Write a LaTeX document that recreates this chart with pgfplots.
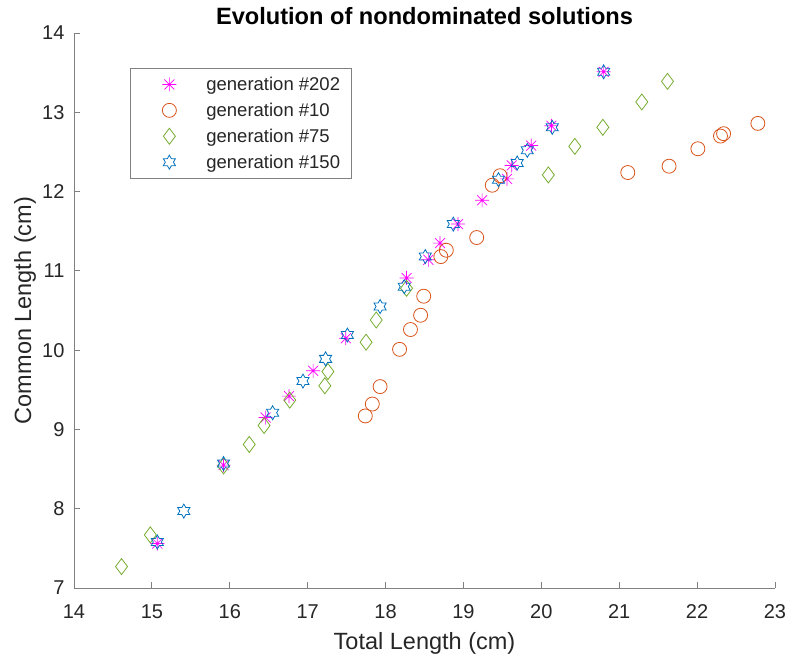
\documentclass[border=0pt]{standalone}
\usepackage{fontspec}
\setmainfont{Liberation Sans}
\usepackage{pgfplots}
\pgfplotsset{compat=1.18}
\definecolor{cmag}{RGB}{255,0,255}
\definecolor{corange}{RGB}{217,83,25}
\definecolor{cgreen}{RGB}{119,172,48}
\definecolor{cblue}{RGB}{0,114,189}
\definecolor{axgray}{RGB}{128,128,128}
\definecolor{labgray}{RGB}{38,38,38}
\pgfdeclareplotmark{mstar}{%
  \pgfpathmoveto{\pgfqpoint{-\pgfplotmarksize}{0pt}}\pgfpathlineto{\pgfqpoint{\pgfplotmarksize}{0pt}}%
  \pgfpathmoveto{\pgfqpoint{0pt}{-\pgfplotmarksize}}\pgfpathlineto{\pgfqpoint{0pt}{\pgfplotmarksize}}%
  \pgfpathmoveto{\pgfpointpolar{45}{\pgfplotmarksize}}\pgfpathlineto{\pgfpointpolar{225}{\pgfplotmarksize}}%
  \pgfpathmoveto{\pgfpointpolar{135}{\pgfplotmarksize}}\pgfpathlineto{\pgfpointpolar{315}{\pgfplotmarksize}}%
  \pgfusepathqstroke}
\pgfdeclareplotmark{hexagram}{%
  \pgfpathmoveto{\pgfpointpolar{90}{\pgfplotmarksize}}%
  \pgfpathlineto{\pgfpointpolar{120}{0.577\pgfplotmarksize}}%
  \pgfpathlineto{\pgfpointpolar{150}{\pgfplotmarksize}}%
  \pgfpathlineto{\pgfpointpolar{180}{0.577\pgfplotmarksize}}%
  \pgfpathlineto{\pgfpointpolar{210}{\pgfplotmarksize}}%
  \pgfpathlineto{\pgfpointpolar{240}{0.577\pgfplotmarksize}}%
  \pgfpathlineto{\pgfpointpolar{270}{\pgfplotmarksize}}%
  \pgfpathlineto{\pgfpointpolar{300}{0.577\pgfplotmarksize}}%
  \pgfpathlineto{\pgfpointpolar{330}{\pgfplotmarksize}}%
  \pgfpathlineto{\pgfpointpolar{0}{0.577\pgfplotmarksize}}%
  \pgfpathlineto{\pgfpointpolar{30}{\pgfplotmarksize}}%
  \pgfpathlineto{\pgfpointpolar{60}{0.577\pgfplotmarksize}}%
  \pgfpathclose\pgfusepathqstroke}
\pgfplotsset{myleg/.style={legend image code/.code={\path[draw=none,fill=none] (0pt,-3pt) rectangle (65pt,3pt); \draw[mark repeat=2,mark phase=2,##1] plot coordinates {(0pt,0pt) (30pt,0pt) (65pt,0pt)};}}}
\begin{document}
\begin{tikzpicture}
\begin{axis}[
  scale only axis, width=701pt, height=555pt,
  xmin=14, xmax=23, ymin=7, ymax=14,
  xtick={14,15,...,23}, ytick={7,8,...,14},
  axis x line*=bottom, axis y line*=left,
  tick align=inside, major tick length=6pt,
  axis line style={draw=axgray, line width=0.8pt},
  tick style={draw=axgray, line width=0.8pt},
  tick label style={font=\fontsize{20}{24}\selectfont, text=labgray},
  xticklabel style={yshift=-13pt},
  yticklabel style={xshift=-6pt},
  /pgf/number format/assume math mode=true,
  xlabel={Total Length (cm)}, ylabel={Common Length (cm)},
  label style={font=\fontsize{23.5}{28}\selectfont, text=labgray},
  xlabel style={at={(axis description cs:0.5,-0.1117)}, anchor=base},
  ylabel style={at={(axis description cs:-0.0613,0.5)}, anchor=base},
  title={Evolution of nondominated solutions},
  title style={font=\bfseries\fontsize{23.6}{28}\selectfont, at={(axis description cs:0.5,0.9982)}, anchor=south},
  legend style={at={(axis description cs:0.08,0.9375)}, anchor=north west, draw=axgray, line width=0.6pt,
    nodes={font=\fontsize{18.5}{22}\selectfont, text=labgray}, inner xsep=9pt, inner ysep=7pt, row sep=7pt},
  legend cell align=left,
  clip=false,
]
\addplot[only marks, myleg, mark=mstar, mark size=7pt, mark options={draw=cmag, line width=0.7pt}] coordinates {
(15.07,7.56) (15.92,8.55) (16.46,9.15) (16.76,9.42) (17.07,9.74) (17.49,10.15) (18.27,10.91) (18.55,11.14)
(18.70,11.35) (18.93,11.59) (19.24,11.89) (19.56,12.16) (19.62,12.33) (19.87,12.58) (20.13,12.83) (20.80,13.51)};
\addlegendentry{generation \#202}
\addplot[only marks, myleg, mark=o, mark size=7pt, mark options={draw=corange, line width=0.8pt}] coordinates {
(17.74,9.17) (17.83,9.32) (17.93,9.54) (18.18,10.01) (18.32,10.26) (18.45,10.44) (18.49,10.68) (18.71,11.18)
(18.78,11.26) (19.17,11.42) (19.37,12.08) (19.47,12.20) (21.11,12.24) (21.64,12.32) (22.01,12.54) (22.30,12.70)
(22.34,12.73) (22.78,12.86)};
\addlegendentry{generation \#10}
\addplot[only marks, myleg, mark=diamond, mark size=8pt, mark options={draw=cgreen, line width=0.8pt}] coordinates {
(14.61,7.27) (14.98,7.67) (15.92,8.54) (16.25,8.81) (16.44,9.05) (16.77,9.37) (17.22,9.55) (17.26,9.73)
(17.75,10.10) (17.88,10.38) (18.27,10.78) (20.09,12.21) (20.43,12.57) (20.79,12.81) (21.29,13.13) (21.62,13.39)};
\addlegendentry{generation \#75}
\addplot[only marks, myleg, mark=hexagram, mark size=7pt, mark options={draw=cblue, line width=0.8pt}] coordinates {
(15.07,7.58) (15.41,7.97) (15.92,8.57) (16.55,9.21) (16.94,9.61) (17.23,9.89) (17.51,10.19) (17.93,10.55)
(18.24,10.80) (18.51,11.18) (18.87,11.59) (19.45,12.15) (19.69,12.36) (19.82,12.52) (20.14,12.81) (20.80,13.51)};
\addlegendentry{generation \#150}
\end{axis}
\pgfresetboundingbox
\path[use as bounding box] (-74pt,-72pt) rectangle (714pt,588pt);
\end{tikzpicture}
\end{document}
